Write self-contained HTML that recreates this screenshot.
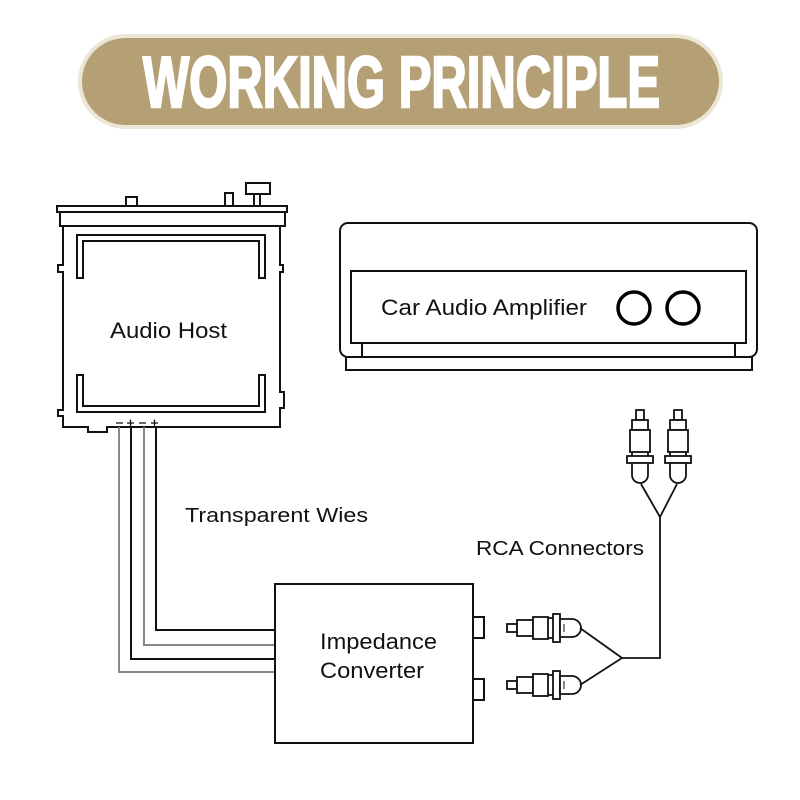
<!DOCTYPE html>
<html><head><meta charset="utf-8"><style>html,body{margin:0;padding:0;background:#fff}svg{display:block}</style></head>
<body>
<svg width="800" height="800" viewBox="0 0 800 800" xmlns="http://www.w3.org/2000/svg" font-family="'Liberation Sans', 'DejaVu Sans', sans-serif">
<rect width="800" height="800" fill="#fff"/>
<!-- banner -->
<rect x="78" y="34" width="645" height="95" rx="47.5" fill="#ece6d6"/>
<rect x="82" y="38" width="637" height="87" rx="43.5" fill="#b4a074"/>
<text x="143" y="107" font-size="72" font-weight="bold" fill="#fff" stroke="#fff" stroke-width="2.5" textLength="517" lengthAdjust="spacingAndGlyphs">WORKING PRINCIPLE</text>

<g fill="none" stroke="#111" stroke-width="2">
<!-- audio host -->
<rect x="126" y="197" width="11" height="9"/>
<rect x="225" y="193" width="8" height="13"/>
<rect x="246" y="183" width="24" height="11"/>
<path d="M254 194 V205 M260 194 V205"/>
<rect x="57" y="206" width="230" height="6"/>
<rect x="60" y="212" width="225" height="14"/>
<path d="M63 226 V265 H58 V272 H63 V410 H58 V416 H63 V427 H88 V432 H107 V427 H280 V408 H284 V392 H280 V272 H283 V265 H280 V226"/>
<path d="M77 278 V235 H265 V278 H259 V241 H83 V278 Z"/>
<path d="M77 375 V412 H265 V375 H259 V406 H83 V375 Z"/>
<!-- wires -->
<path d="M156 427 V630 H275 M131 427 V659 H275" />
<path d="M119 427 V672 H275 M144 427 V645 H275" stroke="#888"/>
<!-- converter -->
<rect x="275" y="584" width="198" height="159"/>
<rect x="473" y="617" width="11" height="21"/>
<rect x="473" y="679" width="11" height="21"/>
<!-- amplifier -->
<rect x="340" y="223" width="417" height="134" rx="8"/>
<rect x="351" y="271" width="395" height="72"/>
<path d="M362 343 V357 M735 343 V357"/>
<rect x="346" y="357" width="406" height="13"/>
</g>
<g fill="none" stroke="#000" stroke-width="3.5">
<circle cx="634" cy="308" r="16"/>
<circle cx="683" cy="308" r="16"/>
</g>
<!-- polarity marks -->
<g stroke="#111" stroke-width="1.3">
<path d="M116 423 H123 M127 423 H134 M130.5 419.5 V426.5 M139 423 H146 M151 423 H158 M154.5 419.5 V426.5"/>
</g>

<!-- RCA horizontal plugs -->
<g fill="#fff" stroke="#111" stroke-width="1.8">
<g id="hp">
<rect x="507" y="624" width="10" height="8"/>
<rect x="517" y="620" width="16" height="16"/>
<rect x="533" y="617" width="15" height="22"/>
<rect x="553" y="614" width="7" height="28"/>
<path d="M548 618 H553 M548 638 H553"/>
<path d="M560 619 H572 A9 9 0 0 1 572 637 H560 Z"/>
<path d="M564 624 V632" stroke-width="1"/>
</g>
<use href="#hp" transform="translate(0,57)"/>
<!-- vertical plugs -->
<g id="vp">
<rect x="636" y="410" width="8" height="10"/>
<rect x="632" y="420" width="16" height="10"/>
<rect x="630" y="430" width="20" height="22"/>
<rect x="627" y="456" width="26" height="7"/>
<path d="M632 452 V456 M648 452 V456"/>
<path d="M632 463 V475 A8 8 0 0 0 648 475 V463 Z"/>
</g>
<use href="#vp" transform="translate(38,0)"/>
</g>
<path d="M580 628 L622 658 L580 685 M622 658 H660 V517 L641 484 M660 517 L677 484" fill="none" stroke="#111" stroke-width="1.8"/>

<!-- labels -->
<g fill="#111" font-size="22">
<text x="110" y="338" textLength="117" lengthAdjust="spacingAndGlyphs">Audio Host</text>
<text x="381" y="315" textLength="206" lengthAdjust="spacingAndGlyphs">Car Audio Amplifier</text>
<text x="185" y="522" font-size="20" textLength="183" lengthAdjust="spacingAndGlyphs">Transparent Wies</text>
<text x="476" y="555" font-size="20" textLength="168" lengthAdjust="spacingAndGlyphs">RCA Connectors</text>
<text x="320" y="649" textLength="117" lengthAdjust="spacingAndGlyphs">Impedance</text>
<text x="320" y="678" textLength="104" lengthAdjust="spacingAndGlyphs">Converter</text>
</g>
</svg>
</body></html>
